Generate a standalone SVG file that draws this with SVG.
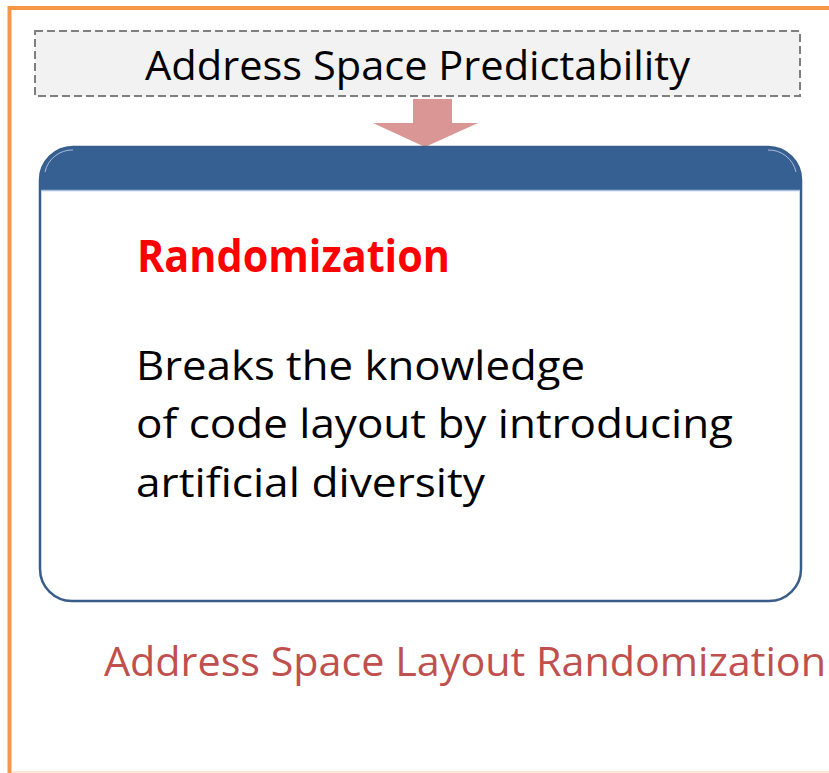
<svg xmlns="http://www.w3.org/2000/svg" width="829" height="773" viewBox="0 0 829 773">
  <style>
    .cal { font-family: "Open Sans", "Noto Sans", "Liberation Sans", sans-serif; }
    .dark { fill: #000000; }
  </style>
  <rect x="0" y="0" width="829" height="773" fill="#FFFFFF"/>
  <g id="frame">
    <line x1="9" y1="8" x2="829" y2="8" stroke="#F79646" stroke-width="4"/>
    <line x1="9.5" y1="6" x2="9.5" y2="773" stroke="#F79646" stroke-width="4"/>
    <line x1="12" y1="772" x2="829" y2="772" stroke="#FDE7D4" stroke-width="2"/>
  </g>
  <g id="node-predictability">
    <rect x="35" y="31" width="765" height="65" fill="#F2F2F2" stroke="#7F7F7F" stroke-width="2" stroke-dasharray="8,4"/>
    <text class="cal dark" x="145" y="80" font-size="40" textLength="545" lengthAdjust="spacingAndGlyphs">Address Space Predictability</text>
  </g>
  <g id="connectors">
    <polygon points="413,99 452,99 452,123 478,123 425,147 373,123 413,123" fill="#D99694"/>
  </g>
  <g id="node-randomization">
    <path d="M40,180 A33,33 0 0 1 73,147 L768,147 A33,33 0 0 1 801,180 L801,569 A32,32 0 0 1 769,601 L72,601 A32,32 0 0 1 40,569 Z" fill="#FFFFFF" stroke="#385D8A" stroke-width="2.5"/>
    <path d="M40,190 L40,180 A33,33 0 0 1 73,147 L768,147 A33,33 0 0 1 801,180 L801,190 Z" fill="#366092"/>
    <line x1="41" y1="190.5" x2="800" y2="190.5" stroke="#A7BFDE" stroke-width="1.5"/>
    <path d="M45,172 A28,28 0 0 1 73,150" fill="none" stroke="#C6D5EA" stroke-width="1" opacity="0.8"/>
    <path d="M768,150 A28,28 0 0 1 796,172" fill="none" stroke="#C6D5EA" stroke-width="1" opacity="0.8"/>
    <text class="cal" x="137" y="272" font-size="44" font-weight="bold" fill="#FF0000" textLength="313" lengthAdjust="spacingAndGlyphs">Randomization</text>
    <text class="cal dark" x="136" y="380" font-size="41" textLength="449" lengthAdjust="spacingAndGlyphs">Breaks the knowledge</text>
    <text class="cal dark" x="136" y="438" font-size="41" textLength="597" lengthAdjust="spacingAndGlyphs">of code layout by introducing</text>
    <text class="cal dark" x="136" y="497" font-size="41" textLength="349" lengthAdjust="spacingAndGlyphs">artificial diversity</text>
  </g>
  <g id="label-aslr">
    <text class="cal" x="104" y="676" font-size="40" fill="#C0504D" textLength="722" lengthAdjust="spacingAndGlyphs">Address Space Layout Randomization</text>
  </g>
</svg>
